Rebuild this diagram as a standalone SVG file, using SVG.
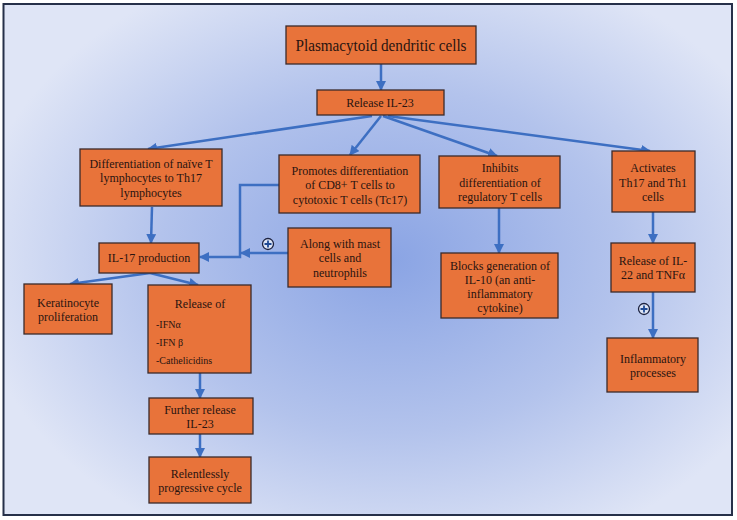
<svg xmlns="http://www.w3.org/2000/svg" width="737" height="520" viewBox="0 0 737 520">
<defs>
<radialGradient id="bg" cx="390" cy="260" r="420" gradientUnits="userSpaceOnUse" gradientTransform="translate(390 260) scale(1 0.75) translate(-390 -260)">
<stop offset="0" stop-color="#8aa4e4"/>
<stop offset="0.55" stop-color="#b3c3ec"/>
<stop offset="1" stop-color="#dfe5f6"/>
</radialGradient>
<marker id="ah" viewBox="0 0 10 10" refX="9" refY="5" markerWidth="4" markerHeight="4" orient="auto" markerUnits="strokeWidth">
<path d="M0,0 L10,5 L0,10 z" fill="#3d6fc2"/>
</marker>
<g id="plus">
<circle r="5.5" fill="#dce4f6" stroke="#1c2240" stroke-width="1.3"/>
<path d="M-3.5,0 H3.5 M0,-3.5 V3.5" stroke="#1f4a96" stroke-width="1.8"/>
</g>
</defs>
<style>
.box{fill:#e8733a;stroke:#3b2a2a;stroke-width:1.3}
.t{font-family:"Liberation Serif","Times New Roman",serif;font-size:12px;fill:#2a1410;text-anchor:middle}
.s{font-family:"Liberation Serif","Times New Roman",serif;font-size:10px;fill:#2a1410}
.c{fill:none;stroke:#3d6fc2;stroke-width:2.5;marker-end:url(#ah)}
</style>
<rect x="0" y="0" width="737" height="520" fill="#ffffff"/>
<rect x="3.5" y="4" width="728.5" height="511" fill="url(#bg)" stroke="#263049" stroke-width="2"/>

<g id="connectors">
<line class="c" x1="381" y1="64" x2="381" y2="90"/>
<line class="c" x1="372" y1="116" x2="148" y2="149"/>
<line class="c" x1="381" y1="116" x2="350" y2="155"/>
<line class="c" x1="383" y1="116" x2="497" y2="156"/>
<line class="c" x1="388" y1="116" x2="650" y2="151"/>
<line class="c" x1="152" y1="207" x2="151" y2="243"/>
<polyline class="c" points="279,185 240,185 240,257 200,257"/>
<line class="c" x1="288" y1="253" x2="241" y2="253"/>
<line class="c" x1="150" y1="273" x2="70" y2="284"/>
<line class="c" x1="150" y1="273" x2="198" y2="285"/>
<line class="c" x1="200" y1="373" x2="200" y2="398"/>
<line class="c" x1="200" y1="434" x2="200" y2="457"/>
<line class="c" x1="499" y1="208" x2="499" y2="253"/>
<line class="c" x1="653" y1="212" x2="653" y2="243"/>
<line class="c" x1="653" y1="292" x2="653" y2="338"/>
<use href="#plus" x="268" y="244"/>
<use href="#plus" x="644" y="309"/>
</g>

<g id="pdc">
<rect class="box" x="286" y="26" width="190" height="38"/>
<text class="t" x="381" y="51" style="font-size:16px" textLength="171" lengthAdjust="spacingAndGlyphs">Plasmacytoid dendritic cells</text>
</g>
<g id="release-il23">
<rect class="box" x="317" y="90" width="127" height="25"/>
<text class="t" x="380" y="107">Release IL-23</text>
</g>
<g id="differentiation">
<rect class="box" x="80" y="149" width="142" height="57"/>
<text class="t" x="151" y="168">Differentiation of naïve T</text>
<text class="t" x="151" y="182">lymphocytes to Th17</text>
<text class="t" x="151" y="197">lymphocytes</text>
</g>
<g id="promotes">
<rect class="box" x="279" y="155" width="141" height="58"/>
<text class="t" x="350" y="175">Promotes differentiation</text>
<text class="t" x="350" y="189">of CD8+ T cells to</text>
<text class="t" x="350" y="204">cytotoxic T cells (Tc17)</text>
</g>
<g id="inhibits">
<rect class="box" x="439" y="156" width="121" height="52"/>
<text class="t" x="500" y="172">Inhibits</text>
<text class="t" x="500" y="187">differentiation of</text>
<text class="t" x="500" y="201">regulatory T cells</text>
</g>
<g id="activates">
<rect class="box" x="612" y="151" width="83" height="61"/>
<text class="t" x="653" y="172">Activates</text>
<text class="t" x="653" y="187">Th17 and Th1</text>
<text class="t" x="653" y="201">cells</text>
</g>
<g id="il17">
<rect class="box" x="99" y="243" width="100" height="30"/>
<text class="t" x="149" y="262">IL-17 production</text>
</g>
<g id="mast">
<rect class="box" x="288" y="228" width="103" height="59"/>
<text class="t" x="340" y="248">Along with mast</text>
<text class="t" x="340" y="262">cells and</text>
<text class="t" x="340" y="277">neutrophils</text>
</g>
<g id="blocks">
<rect class="box" x="441" y="253" width="117" height="65"/>
<text class="t" x="500" y="270">Blocks generation of</text>
<text class="t" x="500" y="284">IL-10 (an anti-</text>
<text class="t" x="500" y="298">inflammatory</text>
<text class="t" x="500" y="312">cytokine)</text>
</g>
<g id="release-il22">
<rect class="box" x="611" y="243" width="84" height="49"/>
<text class="t" x="653" y="265">Release of IL-</text>
<text class="t" x="653" y="279">22 and TNFα</text>
</g>
<g id="keratinocyte">
<rect class="box" x="24" y="284" width="88" height="50"/>
<text class="t" x="68" y="307">Keratinocyte</text>
<text class="t" x="68" y="321">proliferation</text>
</g>
<g id="release-of">
<rect class="box" x="148" y="285" width="103" height="88"/>
<text class="t" x="200" y="308">Release of</text>
<text class="s" x="156" y="328">-IFNα</text>
<text class="s" x="156" y="346">-IFN β</text>
<text class="s" x="156" y="364">-Cathelicidins</text>
</g>
<g id="inflammatory">
<rect class="box" x="607" y="338" width="91" height="54"/>
<text class="t" x="653" y="363">Inflammatory</text>
<text class="t" x="653" y="377">processes</text>
</g>
<g id="further">
<rect class="box" x="149" y="398" width="104" height="36"/>
<text class="t" x="200" y="414">Further release</text>
<text class="t" x="200" y="428">IL-23</text>
</g>
<g id="relentless">
<rect class="box" x="149" y="457" width="102" height="46"/>
<text class="t" x="200" y="478">Relentlessly</text>
<text class="t" x="200" y="492">progressive cycle</text>
</g>
</svg>
